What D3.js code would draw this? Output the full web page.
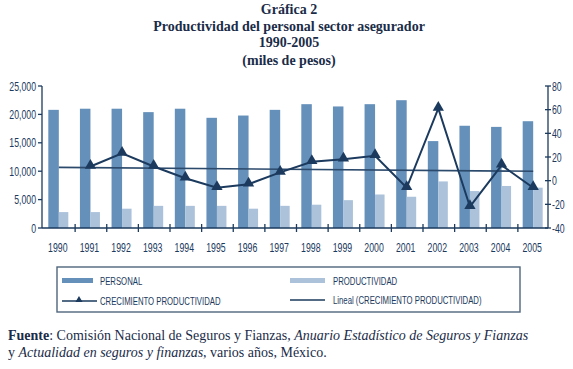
<!DOCTYPE html>
<html><head><meta charset="utf-8">
<script src="https://cdn.jsdelivr.net/npm/d3@7"></script>
<style>
body{margin:0;background:#fff;}
svg{display:block;}
.cond{font-family:"Liberation Sans",Arial,sans-serif;}
</style></head>
<body>
<svg id="c" width="573" height="369"></svg>
<script>
const years = ["1990","1991","1992","1993","1994","1995","1996","1997","1998","1999","2000","2001","2002","2003","2004","2005"];
const personal = [20800,21000,21000,20400,21000,19400,19800,20800,21800,21400,21800,22500,15300,18000,17800,18800];
const productividad = [2800,2800,3400,3900,3900,3900,3400,3900,4100,4900,5900,5500,8200,6500,7400,7100];
const crecimiento = [null,12,23,12,2,-6,-3,7,16,18,21,-6,61,-22,13,-6];
const leftTicks = [0,5000,10000,15000,20000,25000];
const rightTicks = [-40,-20,0,20,40,60,80];
const titleLines = ["Gráfica 2","Productividad del personal sector asegurador","1990-2005","(miles de pesos)"];
const legendLabels = ["PERSONAL","PRODUCTIVIDAD","CRECIMIENTO PRODUCTIVIDAD","Lineal (CRECIMIENTO PRODUCTIVIDAD)"];

const navy = "#1b3a5e";
const cPersonal = "#6590ba";
const cProd = "#abc2da";
const svg = d3.select("#c");
const L = 42, R = 548, T = 86, B = 228;

const x = d3.scaleBand().domain(years).range([L, R]).padding(0);
const yL = d3.scaleLinear().domain([0, 25000]).range([B, T]);
const yR = d3.scaleLinear().domain([-40, 80]).range([B, T]);
const bw = 10.5;
const cx = d => x(d) + x.bandwidth() / 2 + 1;
const SX = 0.7;

// title
svg.append("g").selectAll("text").data(titleLines).join("text")
  .attr("x", 289).attr("y", (d, i) => [14, 31, 47, 65][i])
  .attr("text-anchor", "middle")
  .attr("font-family", "'Liberation Serif','Times New Roman',serif")
  .attr("font-weight", "bold").attr("font-size", 14).attr("fill", "#1a2c48")
  .text(d => d);

// bars
svg.append("g").selectAll("rect").data(years).join("rect")
  .attr("x", d => cx(d) - bw).attr("width", bw)
  .attr("y", (d, i) => yL(personal[i])).attr("height", (d, i) => B - yL(personal[i]))
  .attr("fill", cPersonal);
svg.append("g").selectAll("rect").data(years).join("rect")
  .attr("x", d => cx(d)).attr("width", bw - 1)
  .attr("y", (d, i) => yL(productividad[i])).attr("height", (d, i) => B - yL(productividad[i]))
  .attr("fill", cProd);

// trend line (linear regression of crecimiento)
const pts = crecimiento.map((v, i) => [i, v]).filter(p => p[1] !== null);
const mx = d3.mean(pts, p => p[0]), my = d3.mean(pts, p => p[1]);
const slope = d3.sum(pts, p => (p[0] - mx) * (p[1] - my)) / d3.sum(pts, p => (p[0] - mx) ** 2);
const icpt = my - slope * mx;
svg.append("line")
  .attr("x1", cx(years[0])).attr("x2", cx(years[years.length - 1]))
  .attr("y1", yR(icpt)).attr("y2", yR(icpt + slope * (years.length - 1)))
  .attr("stroke", "#2c4a6c").attr("stroke-width", 1.6);

// growth line
const line = d3.line().defined(d => d[1] !== null).x(d => cx(years[d[0]])).y(d => yR(d[1]));
svg.append("path").datum(crecimiento.map((v, i) => [i, v]))
  .attr("d", line).attr("fill", "none").attr("stroke", navy).attr("stroke-width", 2);
const tri = d3.symbol().type(d3.symbolTriangle).size(55);
svg.append("g").selectAll("path").data(pts).join("path")
  .attr("d", tri).attr("transform", p => `translate(${cx(years[p[0]])},${yR(p[1]) - 1})`)
  .attr("fill", navy);

// axes
const ax = svg.append("g").attr("stroke", navy).attr("stroke-width", 1.3);
ax.append("line").attr("x1", L).attr("x2", R).attr("y1", B).attr("y2", B);
ax.append("line").attr("x1", L).attr("x2", L).attr("y1", T).attr("y2", B);
ax.append("line").attr("x1", R).attr("x2", R).attr("y1", T).attr("y2", B);
ax.selectAll(".xt").data(years.slice(1)).join("line")
  .attr("x1", d => x(d) + 1.5).attr("x2", d => x(d) + 1.5).attr("y1", B - 4).attr("y2", B + 4);
ax.selectAll(".lt").data(leftTicks).join("line")
  .attr("x1", L - 4).attr("x2", L).attr("y1", d => yL(d)).attr("y2", d => yL(d));
ax.selectAll(".rt").data(rightTicks).join("line")
  .attr("x1", R - 3).attr("x2", R + 3).attr("y1", d => yR(d)).attr("y2", d => yR(d));

const lab = svg.append("g").attr("class", "cond").attr("fill", navy).attr("font-size", 12.5);
lab.selectAll(".xl").data(years).join("text")
  .attr("transform", d => `translate(${cx(d) - 1},251.5) scale(${SX},1)`)
  .attr("text-anchor", "middle").text(d => d);
lab.selectAll(".ll").data(leftTicks).join("text")
  .attr("transform", d => `translate(36,${yL(d) + 4.5}) scale(${SX},1)`)
  .attr("text-anchor", "end").text(d => d3.format(",")(d));
lab.selectAll(".rl").data(rightTicks).join("text")
  .attr("transform", d => `translate(552,${yR(d) + 4.5}) scale(${SX},1)`)
  .attr("text-anchor", "start").text(d => d);

// legend
const lg = svg.append("g");
lg.append("rect").attr("x", 57).attr("y", 267).attr("width", 463).attr("height", 45)
  .attr("fill", "none").attr("stroke", "#4f657d").attr("stroke-width", 1.4);
lg.append("rect").attr("x", 62).attr("y", 278).attr("width", 31).attr("height", 5).attr("fill", cPersonal);
lg.append("rect").attr("x", 290).attr("y", 278).attr("width", 35).attr("height", 5).attr("fill", cProd);
lg.append("line").attr("x1", 62).attr("x2", 97).attr("y1", 301).attr("y2", 301).attr("stroke", navy).attr("stroke-width", 1.6);
lg.append("path").attr("d", d3.symbol().type(d3.symbolTriangle).size(22)).attr("transform", "translate(79,300)").attr("fill", navy);
lg.append("line").attr("x1", 290).attr("x2", 325).attr("y1", 300).attr("y2", 300).attr("stroke", navy).attr("stroke-width", 1.3);
const legPos = [[100, 284.5], [333, 284.5], [100, 305], [333, 304]];
lg.selectAll("text").data(legendLabels).join("text")
  .attr("class", "cond")
  .attr("transform", (d, i) => `translate(${legPos[i][0]},${legPos[i][1]}) scale(0.74,1)`)
  .attr("font-size", 10.5).attr("fill", navy).text(d => d);

// footer
const ft = svg.append("g").attr("font-family", "'Liberation Serif','Times New Roman',serif")
  .attr("font-size", 14).attr("fill", "#1a2c48");
const t1 = ft.append("text").attr("x", 8).attr("y", 340);
t1.append("tspan").attr("font-weight", "bold").text("Fuente");
t1.append("tspan").text(": Comisión Nacional de Seguros y Fianzas, ");
t1.append("tspan").attr("font-style", "italic").text("Anuario Estadístico de Seguros y Fianzas");
const t2 = ft.append("text").attr("x", 8).attr("y", 357);
t2.append("tspan").text("y ");
t2.append("tspan").attr("font-style", "italic").text("Actualidad en seguros y finanzas");
t2.append("tspan").text(", varios años, México.");
</script>
</body></html>
